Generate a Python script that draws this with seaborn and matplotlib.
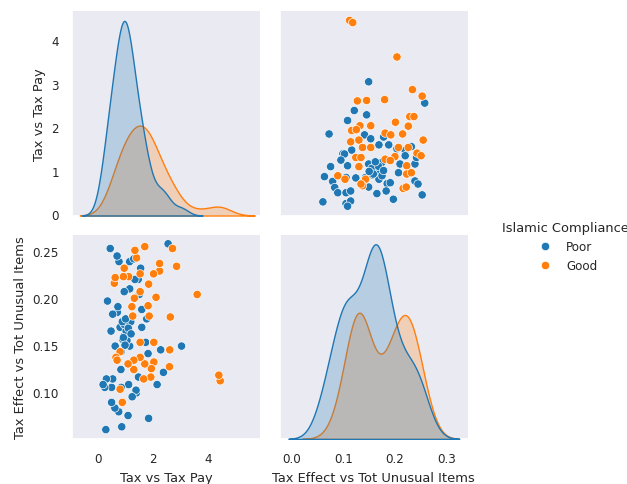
import pandas as pd
import matplotlib.pyplot as plt
import seaborn as sns

# Values
poor_tax_pay = [3.04, 2.38, 2.28, 2.15, 2.55, 1.84, 1.82, 1.73, 1.59, 1.59,
                1.46, 1.39, 1.47, 1.77, 1.50, 1.55, 1.38, 1.34, 1.15, 1.11,
                1.19, 1.15, 1.15, 1.09, 1.11, 1.24, 0.86, 0.75, 0.84, 0.83,
                0.84, 0.90, 0.80, 0.70, 0.72, 0.95, 0.76, 0.69, 0.61, 0.49,
                0.49, 0.53, 0.62, 0.47, 0.53, 0.44, 0.28, 0.24, 0.30, 0.34,
                0.18, 1.30, 0.95, 1.02, 0.95, 1.05, 0.88, 1.10, 0.92, 0.98,
                1.20, 1.00]
poor_tax_effect = [0.149, 0.121, 0.145, 0.108, 0.258, 0.072, 0.141, 0.153, 0.169, 0.188,
                   0.220, 0.099, 0.116, 0.178, 0.204, 0.232, 0.102, 0.220, 0.149, 0.162,
                   0.175, 0.210, 0.239, 0.075, 0.108, 0.095, 0.063, 0.079, 0.105, 0.124,
                   0.143, 0.156, 0.169, 0.185, 0.191, 0.207, 0.239, 0.245, 0.083, 0.089,
                   0.105, 0.114, 0.149, 0.165, 0.183, 0.253, 0.060, 0.105, 0.114, 0.197,
                   0.108, 0.242, 0.160, 0.165, 0.172, 0.155, 0.175, 0.168, 0.158, 0.150,
                   0.162, 0.178]

good_tax_pay = [4.45, 4.40, 3.61, 2.86, 2.71, 2.60, 2.61, 2.63, 2.24, 2.24,
                2.11, 2.02, 2.03, 2.03, 1.92, 1.94, 1.86, 1.82, 1.84, 1.66,
                1.70, 1.70, 1.53, 1.53, 1.53, 1.53, 1.40, 1.30, 1.30, 1.26,
                1.32, 1.34, 1.09, 1.23, 1.11, 0.88, 0.80, 0.80, 0.92, 0.95,
                0.65, 0.59, 0.62, 0.69]
good_tax_effect = [0.112, 0.118, 0.204, 0.234, 0.253, 0.127, 0.145, 0.180, 0.229, 0.237,
                   0.201, 0.226, 0.132, 0.153, 0.116, 0.125, 0.181, 0.192, 0.215, 0.114,
                   0.130, 0.255, 0.137, 0.153, 0.207, 0.226, 0.243, 0.124, 0.134, 0.181,
                   0.200, 0.251, 0.130, 0.191, 0.223, 0.089, 0.103, 0.143, 0.223, 0.232,
                   0.137, 0.216, 0.222, 0.134]

data = pd.DataFrame({
    'Tax vs Tax Pay': poor_tax_pay + good_tax_pay,
    'Tax Effect vs Tot Unusual Items': poor_tax_effect + good_tax_effect,
    'Islamic Compliance': ['Poor'] * len(poor_tax_pay) + ['Good'] * len(good_tax_pay),
})

sns.set_theme(style='dark', context='notebook', font_scale=0.78)

g = sns.pairplot(data, hue='Islamic Compliance', hue_order=['Poor', 'Good'],
                 palette=['#1f77b4', '#ff7f0e'], height=2.2)
g.fig.set_size_inches(6.27, 4.85)
g.fig.subplots_adjust(left=0.115, right=0.746, top=0.975, bottom=0.093,
                      wspace=0.106, hspace=0.093)
g.axes[1, 0].set_xlim(-0.95, 5.9)
sns.move_legend(g, 'center left', bbox_to_anchor=(0.783, 0.49), frameon=False)

g.fig.savefig('out.png', dpi=100)
